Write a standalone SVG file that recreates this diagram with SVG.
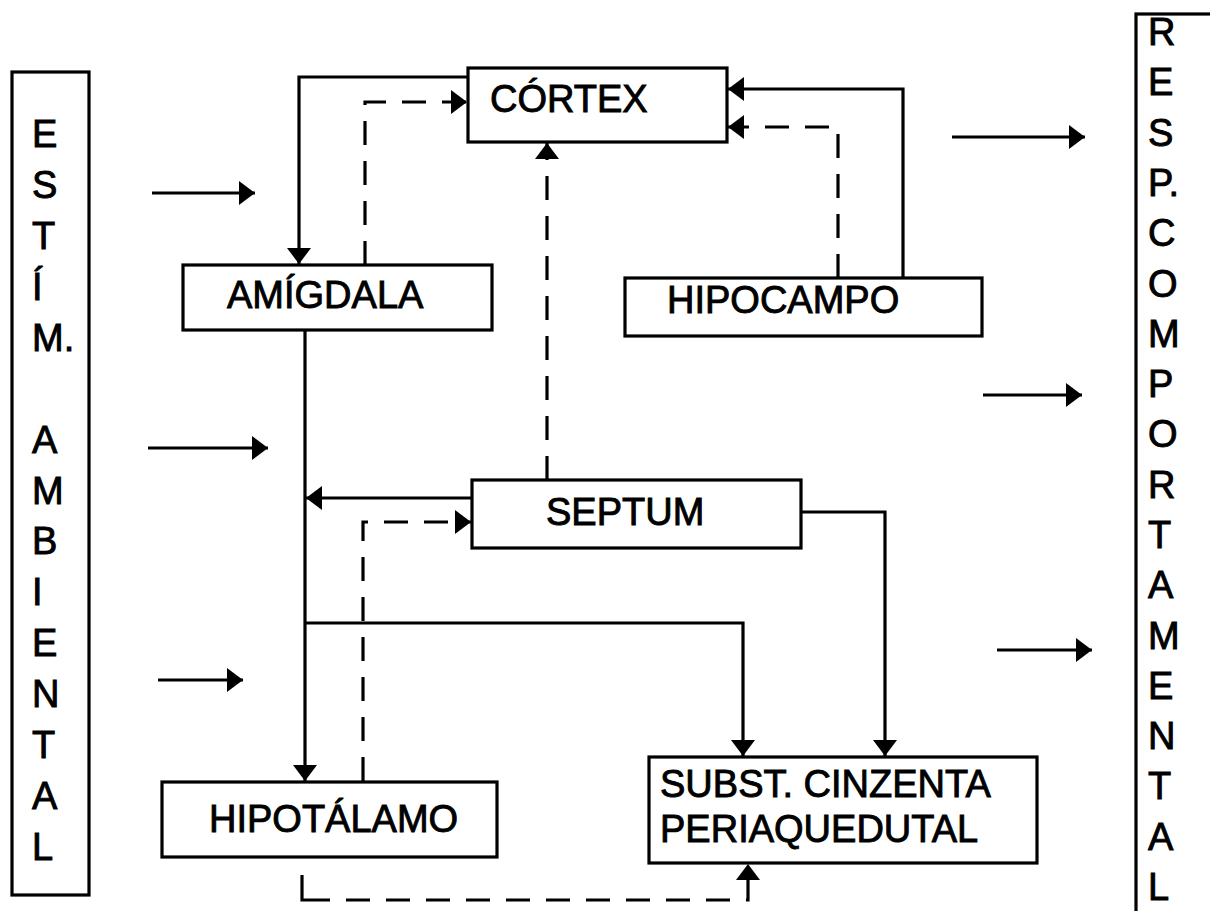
<svg xmlns="http://www.w3.org/2000/svg" width="1210" height="911" viewBox="0 0 1210 911">
<style>
.box{fill:#fff;stroke:#000;stroke-width:3.2}
.t{font-family:"Liberation Sans",Arial,sans-serif;font-size:38px;fill:#000;stroke:#000;stroke-width:0.9}
.ln{fill:none;stroke:#000;stroke-width:3.2}
.ds{fill:none;stroke:#000;stroke-width:3.2;stroke-dasharray:24 16}
</style>
<defs>
<marker id="arr" markerUnits="userSpaceOnUse" markerWidth="17" markerHeight="26" refX="16" refY="13" orient="auto" viewBox="0 0 17 26">
<path d="M0,1 L16,13 L0,25 Z" fill="#000"/>
</marker>
</defs>
<rect width="1210" height="911" fill="#fff"/>

<g id="estim">
<rect class="box" x="12" y="72" width="77" height="823"/>
<text class="t" x="32" y="147">E</text>
<text class="t" x="32" y="198">S</text>
<text class="t" x="32" y="249">T</text>
<text class="t" x="32" y="300">Í</text>
<text class="t" x="32" y="351">M.</text>
<text class="t" x="32" y="453">A</text>
<text class="t" x="32" y="504">M</text>
<text class="t" x="32" y="554">B</text>
<text class="t" x="32" y="605">I</text>
<text class="t" x="32" y="656">E</text>
<text class="t" x="32" y="707">N</text>
<text class="t" x="32" y="758">T</text>
<text class="t" x="32" y="809">A</text>
<text class="t" x="32" y="860">L</text>
</g>

<g id="resp">
<rect class="box" x="1136" y="14" width="120" height="930"/>
<text class="t" x="1148" y="45">R</text>
<text class="t" x="1148" y="95">E</text>
<text class="t" x="1148" y="146">S</text>
<text class="t" x="1148" y="196">P.</text>
<text class="t" x="1148" y="246">C</text>
<text class="t" x="1148" y="297">O</text>
<text class="t" x="1148" y="347">M</text>
<text class="t" x="1148" y="397">P</text>
<text class="t" x="1148" y="447">O</text>
<text class="t" x="1148" y="498">R</text>
<text class="t" x="1148" y="548">T</text>
<text class="t" x="1148" y="598">A</text>
<text class="t" x="1148" y="649">M</text>
<text class="t" x="1148" y="699">E</text>
<text class="t" x="1148" y="749">N</text>
<text class="t" x="1148" y="799">T</text>
<text class="t" x="1148" y="850">A</text>
<text class="t" x="1148" y="900">L</text>
</g>

<g id="cortex">
<rect class="box" x="468" y="68" width="259" height="74"/>
<text class="t" x="490" y="112">CÓRTEX</text>
</g>
<g id="amigdala">
<rect class="box" x="183" y="265" width="309" height="65"/>
<text class="t" x="227" y="308">AMÍGDALA</text>
</g>
<g id="hipocampo">
<rect class="box" x="625" y="278" width="357" height="58"/>
<text class="t" x="667" y="313">HIPOCAMPO</text>
</g>
<g id="septum">
<rect class="box" x="472" y="480" width="329" height="68"/>
<text class="t" x="546" y="525">SEPTUM</text>
</g>
<g id="hipotalamo">
<rect class="box" x="162" y="782" width="335" height="75"/>
<text class="t" x="209" y="832">HIPOTÁLAMO</text>
</g>
<g id="subst">
<rect class="box" x="649" y="757" width="388" height="106"/>
<text class="t" x="660" y="797">SUBST. CINZENTA</text>
<text class="t" x="660" y="842">PERIAQUEDUTAL</text>
</g>

<g id="connectors">
<path class="ln" d="M152,193 H255" marker-end="url(#arr)"/>
<path class="ln" d="M148,448 H268" marker-end="url(#arr)"/>
<path class="ln" d="M158,680 H243" marker-end="url(#arr)"/>
<path class="ln" d="M952,137 H1085" marker-end="url(#arr)"/>
<path class="ln" d="M983,395 H1082" marker-end="url(#arr)"/>
<path class="ln" d="M997,650 H1092" marker-end="url(#arr)"/>

<path class="ln" d="M468,77 H299 V264" marker-end="url(#arr)"/>
<path class="ds" d="M365,265 V102 H467" marker-end="url(#arr)"/>
<path class="ln" d="M903,278 V89 H728" marker-end="url(#arr)"/>
<path class="ds" d="M838,278 V127 H728" marker-end="url(#arr)"/>
<path class="ds" d="M547,480 V143" marker-end="url(#arr)"/>
<path class="ln" d="M305,330 V781" marker-end="url(#arr)"/>
<path class="ln" d="M472,498 H306" marker-end="url(#arr)"/>
<path class="ds" d="M363,781 V522 H471" marker-end="url(#arr)"/>
<path class="ln" d="M305,623 H743 V756" marker-end="url(#arr)"/>
<path class="ln" d="M801,512 H885 V756" marker-end="url(#arr)"/>
<path class="ln" d="M302,875 V900 H330"/>
<path class="ds" d="M346,900 H748 V864" marker-end="url(#arr)"/>
</g>
</svg>
